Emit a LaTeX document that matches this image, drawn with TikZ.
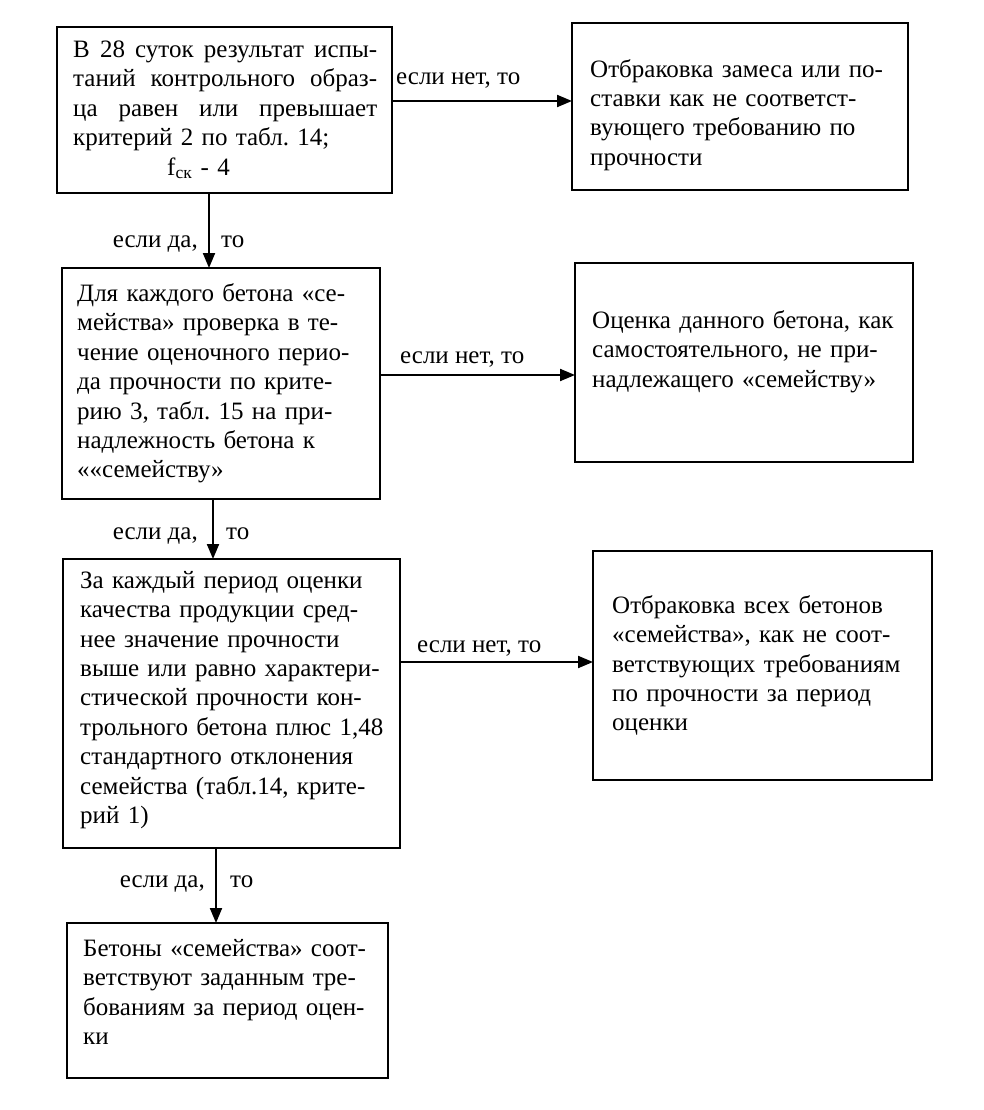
\documentclass[tikz,border=0pt]{standalone}
\usepackage{fontspec}
\setmainfont{Liberation Serif}
\usetikzlibrary{arrows.meta,calc}
\frenchspacing
\newcommand{\jline}[1]{\leavevmode\hbox to 304pt{#1}}
\begin{document}
\begin{tikzpicture}[x=1pt,y=-1pt,
  box/.style={draw, line width=2pt, rectangle, outer sep=0pt, inner sep=0pt},
  txt/.style={anchor=west, align=left, inner sep=0pt, text width=320pt,
    font=\fontsize{25}{29.4}\selectfont},
  lbl/.style={inner sep=0pt, font=\fontsize{25}{29.4}\selectfont},
  arr/.style={line width=2pt, -{Triangle[length=15pt,width=12pt]}}]
\fill[white] (0,0) rectangle (983,1110);
\useasboundingbox (0,0) rectangle (983,1110);

% boxes
\node[box, minimum width=335pt, minimum height=166pt] (b1) at (224.5,110) {};
\node[box, minimum width=336pt, minimum height=167pt] (b2) at (740,106.5) {};
\node[box, minimum width=318pt, minimum height=231pt] (b3) at (221,383.5) {};
\node[box, minimum width=338pt, minimum height=199pt] (b4) at (744,362.5) {};
\node[box, minimum width=337pt, minimum height=289pt] (b5) at (231.5,703.5) {};
\node[box, minimum width=339pt, minimum height=229pt] (b6) at (762.5,665.5) {};
\node[box, minimum width=321pt, minimum height=155pt] (b7) at (227.5,1000.5) {};

% texts
\node[txt] (t1) at ([xshift=16pt]b1.west) {%
\jline{В\hfill 28\hfill суток\hfill результат\hfill испы-}\\
\jline{таний\hfill контрольного\hfill образ-}\\
\jline{ца\hfill равен\hfill или\hfill превышает}\\
критерий 2 по табл. 14;\\
\hspace*{94pt}f\textsubscript{ск} - 4};
\node[txt] (t2) at ([xshift=18pt,yshift=-8.5pt]b2.west) {%
Отбраковка замеса или по-\\
ставки как не соответст-\\
вующего требованию по\\
прочности};
\node[txt] (t3) at ([xshift=15pt]b3.west) {%
Для каждого бетона «се-\\
мейства» проверка в те-\\
чение оценочного перио-\\
да прочности по крите-\\
рию 3, табл. 15 на при-\\
надлежность бетона к\\
««семейству»};
\node[txt] (t4) at ([xshift=17pt,yshift=11pt]b4.west) {%
Оценка данного бетона, как\\
самостоятельного, не при-\\
надлежащего «семейству»};
\node[txt] (t5) at ([xshift=17pt,yshift=3.5pt]b5.west) {%
За каждый период оценки\\
качества продукции сред-\\
нее значение прочности\\
выше или равно характери-\\
стической прочности кон-\\
трольного бетона плюс 1,48\\
стандартного отклонения\\
семейства (табл.14, крите-\\
рий 1)};
\node[txt] (t6) at ([xshift=19pt]b6.west) {%
Отбраковка всех бетонов\\
«семейства», как не соот-\\
ветствующих требованиям\\
по прочности за период\\
оценки};
\node[txt] (t7) at ([xshift=16pt,yshift=8.5pt]b7.west) {%
Бетоны «семейства» соот-\\
ветствуют заданным тре-\\
бованиям за период оцен-\\
ки};

% horizontal connectors
\coordinate (h1) at ([yshift=9pt]b1.east);
\draw[arr] (h1) -- (h1 -| b2.west);
\node[lbl, anchor=base west] (l1) at ([xshift=4pt,yshift=16pt]h1) {если нет, то};

\coordinate (h2) at ([yshift=8.5pt]b3.east);
\draw[arr] (h2) -- (h2 -| b4.west);
\node[lbl, anchor=base west] (l2) at ([xshift=20pt,yshift=12pt]h2) {если нет, то};

\coordinate (h3) at ([yshift=41.5pt]b5.east);
\draw[arr] (h3) -- (h3 -| b6.west);
\node[lbl, anchor=base west] (l3) at ([xshift=17pt,yshift=10pt]h3) {если нет, то};

% vertical connectors
\coordinate (v1) at ([xshift=-15.5pt]b1.south);
\draw[arr] (v1) -- (v1 |- b3.north);
\node[lbl, anchor=base east] (y1a) at ([xshift=-11pt,yshift=21pt]v1 |- b3.north) {если да,};
\node[lbl, anchor=base west] (y1b) at ([xshift=12pt,yshift=21pt]v1 |- b3.north) {то};

\coordinate (v2) at ([xshift=-8pt]b3.south);
\draw[arr] (v2) -- (v2 |- b5.north);
\node[lbl, anchor=base east] (y2a) at ([xshift=-15pt,yshift=20pt]v2 |- b5.north) {если да,};
\node[lbl, anchor=base west] (y2b) at ([xshift=13pt,yshift=20pt]v2 |- b5.north) {то};

\coordinate (v3) at ([xshift=-15.5pt]b5.south);
\draw[arr] (v3) -- (v3 |- b7.north);
\node[lbl, anchor=base east] (y3a) at ([xshift=-11pt,yshift=36pt]v3 |- b7.north) {если да,};
\node[lbl, anchor=base west] (y3b) at ([xshift=14pt,yshift=36pt]v3 |- b7.north) {то};
\end{tikzpicture}
\end{document}
